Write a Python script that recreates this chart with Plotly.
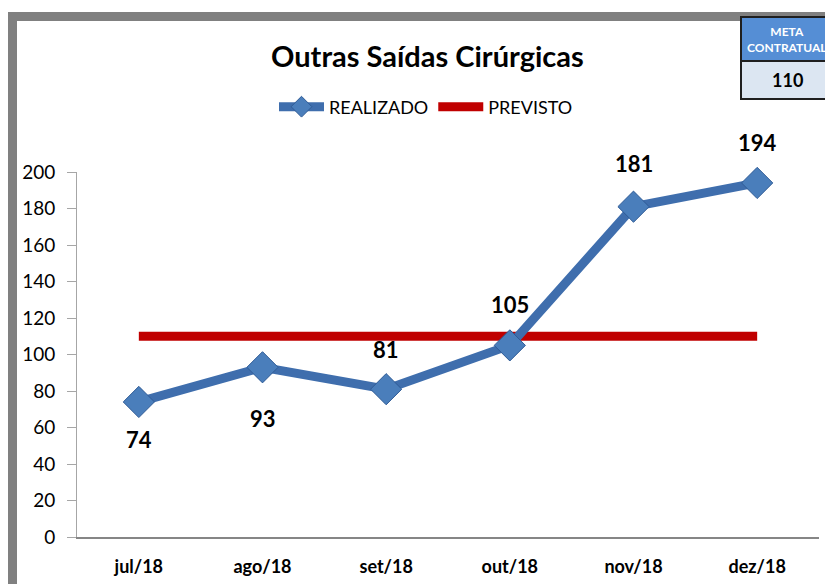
import plotly.graph_objects as go

categories = ["jul/18", "ago/18", "set/18", "out/18", "nov/18", "dez/18"]
realizado = [74, 93, 81, 105, 181, 194]
previsto = [110, 110, 110, 110, 110, 110]
meta_value = "110"

# label offsets (pixels, style only)
label_shift = [-38, -51, 40, 41, 43, 40]

OFF = 8  # page body margin
W, H = 833 - OFF, 584 - OFF
L, R, T, B = 77 - OFF, 14, 172 - OFF, 47
pw, ph = W - L - R, H - T - B

def px(x):
    return (x - OFF - L) / pw

def py(y):
    return (H - B - (y - OFF)) / ph

FONT = "Lato"

fig = go.Figure()
fig.add_trace(go.Scatter(
    x=categories, y=previsto, name="PREVISTO", mode="lines",
    line=dict(color="#C00000", width=9), cliponaxis=False,
))
fig.add_trace(go.Scatter(
    x=categories, y=realizado, name="REALIZADO", mode="lines+markers",
    line=dict(color="#3F6EAD", width=9),
    marker=dict(symbol="diamond", size=24, color="#4A7EBB", line=dict(color="#2F5B96", width=1)),
    cliponaxis=False,
))

shapes = []
shapes.append(dict(type="rect", xref="paper", yref="paper",
                   x0=px(8), x1=px(845), y0=py(600), y1=py(12),
                   fillcolor="#808080", line=dict(width=0), layer="below"))
shapes.append(dict(type="rect", xref="paper", yref="paper",
                   x0=px(17), x1=px(850), y0=py(610), y1=py(21),
                   fillcolor="#FFFFFF", line=dict(width=0), layer="below"))
shapes.append(dict(type="rect", xref="paper", yref="paper",
                   x0=px(741), x1=px(838), y0=py(61), y1=py(17),
                   fillcolor="#558ED5", line=dict(color="#1F1F1F", width=2)))
shapes.append(dict(type="rect", xref="paper", yref="paper",
                   x0=px(741), x1=px(838), y0=py(99), y1=py(61),
                   fillcolor="#DCE6F2", line=dict(color="#1F1F1F", width=2)))

annotations = [
    dict(text="<b>Outras Saídas Cirúrgicas</b>", xref="paper", yref="paper",
         x=px(427), y=py(55), xanchor="center", yanchor="middle", showarrow=False,
         font=dict(family=FONT, size=29, color="#000000")),
    dict(text="<b>META<br>CONTRATUAL</b>", xref="paper", yref="paper",
         x=px(787), y=py(39), xanchor="center", yanchor="middle", showarrow=False,
         font=dict(family=FONT, size=12, color="#FFFFFF")),
    dict(text="<b>" + meta_value + "</b>", xref="paper", yref="paper",
         x=px(787), y=py(80), xanchor="center", yanchor="middle", showarrow=False,
         font=dict(family=FONT, size=18, color="#000000")),
]
for c, v, s in zip(categories, realizado, label_shift):
    annotations.append(dict(text="<b>%d</b>" % v, x=c, y=v, xref="x", yref="y",
                            showarrow=False, yshift=s, xanchor="center", yanchor="middle",
                            font=dict(family=FONT, size=22, color="#000000")))

fig.update_layout(
    width=W, height=H,
    margin=dict(l=L, r=R, t=T, b=B, autoexpand=False),
    paper_bgcolor="#FFFFFF", plot_bgcolor="rgba(0,0,0,0)",
    showlegend=True,
    legend=dict(orientation="h", x=px(426), xanchor="center", y=py(107), yanchor="middle",
                font=dict(family=FONT, size=18, color="#000000"),
                traceorder="reversed", itemwidth=45, bgcolor="rgba(0,0,0,0)"),
    shapes=shapes, annotations=annotations,
    xaxis=dict(type="category", range=[-0.5, 5.5], showgrid=False, zeroline=False,
               showline=True, linecolor="#868686", linewidth=2, ticks="",
               automargin=False,
               tickfont=dict(family=FONT, size=18, color="#000000", weight="bold"),
               ticklabelstandoff=12),
    yaxis=dict(range=[0, 200], dtick=20, showgrid=False, zeroline=False,
               showline=True, linecolor="#A6A6A6", linewidth=1, automargin=False,
               ticks="outside", ticklen=9, tickcolor="#A6A6A6", ticklabelstandoff=8,
               tickfont=dict(family=FONT, size=19, color="#000000")),
)

fig.write_html("out.html")
